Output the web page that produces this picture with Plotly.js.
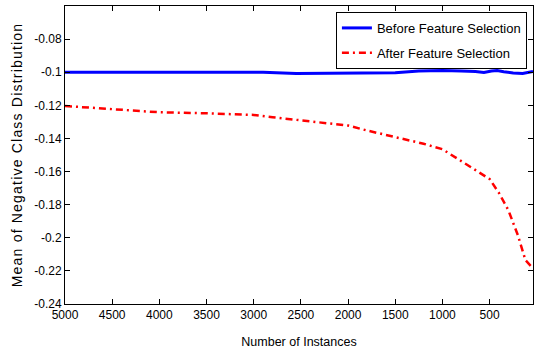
<!DOCTYPE html>
<html>
<head>
<meta charset="utf-8">
<script src="https://cdn.plot.ly/plotly-3.0.1.min.js"></script>
<style>html,body{margin:0;padding:0;background:#fff;}#chart{width:534px;height:349px;}</style>
</head>
<body>
<div id="chart"></div>
<script>
// Data
var beforeX = [5000, 4500, 4480, 3520, 3500, 2900, 2550, 2000, 1850, 1500, 1250, 1000, 900, 800, 650, 560, 480, 420, 350, 250, 150, 100, 40];
var beforeY = [-0.1, -0.1, -0.0997, -0.0997, -0.1, -0.1, -0.1008, -0.1008, -0.1005, -0.1003, -0.0993, -0.099, -0.099, -0.0993, -0.0995, -0.1002, -0.0993, -0.099, -0.0997, -0.1005, -0.1008, -0.1, -0.0995];
var afterX = [5000, 4800, 4500, 4200, 4000, 3500, 3000, 2800, 2500, 2200, 2000, 1800, 1500, 1200, 1000, 800, 600, 500, 400, 300, 200, 120, 40];
var afterY = [-0.1204, -0.1212, -0.1225, -0.1237, -0.1242, -0.1248, -0.1258, -0.1272, -0.1292, -0.1308, -0.1322, -0.1352, -0.1392, -0.1432, -0.1465, -0.1535, -0.1605, -0.1645, -0.1730, -0.1835, -0.1985, -0.2135, -0.2185];
var seriesNames = ["Before Feature Selection", "After Feature Selection"];
var xTickVals = [5000, 4500, 4000, 3500, 3000, 2500, 2000, 1500, 1000, 500];
var xTickText = ["5000", "4500", "4000", "3500", "3000", "2500", "2000", "1500", "1000", "500"];
var yTickVals = [-0.24, -0.22, -0.2, -0.18, -0.16, -0.14, -0.12, -0.1, -0.08];
var yTickText = ["-0.24", "-0.22", "-0.2", "-0.18", "-0.16", "-0.14", "-0.12", "-0.1", "-0.08"];
var xTitle = "Number of Instances";
var yTitle = "Mean of Negative Class Distribution";

var font = "Arial, 'Liberation Sans', sans-serif";
var traces = [
  {x: beforeX, y: beforeY, name: seriesNames[0], mode: "lines", legendgroup: "a",
   line: {color: "#0000ff", width: 3}},
  {x: afterX, y: afterY, name: seriesNames[1], mode: "lines", legendgroup: "b",
   line: {color: "#ff0000", width: 2.5, dash: "7px,4px,2px,4px"}}
];
var axisCommon = {
  showline: true, linecolor: "#000", linewidth: 1, mirror: "ticks",
  ticks: "inside", ticklen: 5, tickcolor: "#000", showgrid: false, zeroline: false,
  tickfont: {family: font, size: 12, color: "#000"}, tickmode: "array"
};
var layout = {
  width: 534, height: 349,
  margin: {l: 65, r: 1, t: 6, b: 45},
  paper_bgcolor: "#fff", plot_bgcolor: "#fff",
  showlegend: true,
  xaxis: Object.assign({}, axisCommon, {
    range: [5000, 40], tickvals: xTickVals, ticktext: xTickText,
    title: {text: xTitle, font: {family: font, size: 12.5, color: "#000"}, standoff: 16}
  }),
  yaxis: Object.assign({}, axisCommon, {
    range: [-0.24, -0.06], tickvals: yTickVals, ticktext: yTickText,
    title: {text: yTitle, font: {family: font, size: 14, color: "#000"}, standoff: 8}
  }),
  legend: {
    x: 0.987, y: 0.98, xanchor: "right", yanchor: "top",
    bgcolor: "#fff", bordercolor: "#000", borderwidth: 1,
    font: {family: font, size: 13, color: "#000"},
    traceorder: "grouped", tracegroupgap: 5
  }
};
Plotly.newPlot("chart", traces, layout, {staticPlot: true, displayModeBar: false}).then(function () {
  var yt = document.querySelector("#chart .ytitle");
  if (yt) { yt.style.letterSpacing = "1.2px"; }
});
</script>
</body>
</html>
